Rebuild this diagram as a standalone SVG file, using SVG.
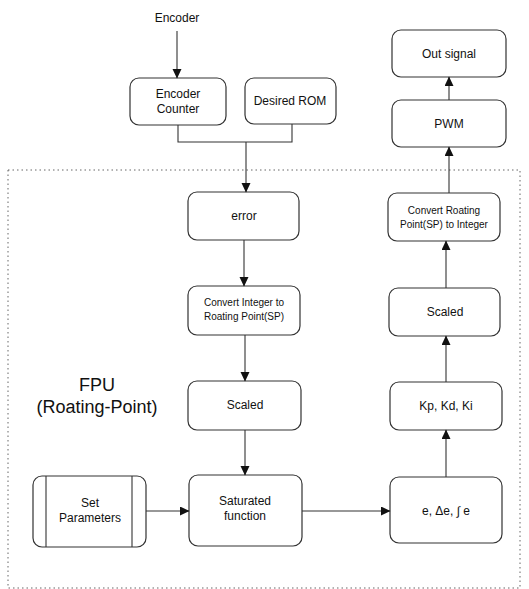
<svg xmlns="http://www.w3.org/2000/svg" width="529" height="589" viewBox="0 0 529 589">
<style>
.box{fill:#fff;stroke:#333;stroke-width:1.2}
.t{font-family:"Liberation Sans",Arial,sans-serif;font-size:12px;fill:#111;text-anchor:middle}
.s{font-size:10px}
.c{fill:none;stroke:#333;stroke-width:1.1}
.fpu{font-family:"Liberation Sans",Arial,sans-serif;font-size:18px;fill:#111;text-anchor:middle}
</style>
<defs>
<marker id="ah" markerWidth="10" markerHeight="10" refX="9" refY="4.5" orient="auto" markerUnits="userSpaceOnUse">
<path d="M0,0 L9.5,4.5 L0,9 Z" fill="#111"/>
</marker>
</defs>
<rect x="0" y="0" width="529" height="589" fill="#fff"/>
<rect x="8" y="170" width="512" height="418" fill="none" stroke="#666" stroke-width="1" stroke-dasharray="1.5,3"/>
<text class="fpu" x="97" y="391">FPU</text>
<text class="fpu" x="97" y="413">(Roating-Point)</text>
<text class="t" x="177" y="22">Encoder</text>
<g id="encoder-counter"><rect class="box" x="130" y="78" width="96" height="47" rx="9"/><text class="t" x="178" y="98">Encoder</text><text class="t" x="178" y="113">Counter</text></g>
<g id="desired-rom"><rect class="box" x="245" y="78" width="91" height="46" rx="9"/><text class="t" x="290" y="105">Desired ROM</text></g>
<g id="out-signal"><rect class="box" x="392" y="30" width="114" height="47" rx="9"/><text class="t" x="449" y="58">Out signal</text></g>
<g id="pwm"><rect class="box" x="392" y="100" width="114" height="47" rx="9"/><text class="t" x="449" y="128">PWM</text></g>
<g id="error"><rect class="box" x="188" y="192" width="111" height="48" rx="9"/><text class="t" x="244" y="220">error</text></g>
<g id="convert-int"><rect class="box" x="188" y="286" width="112" height="49" rx="9"/><text class="t s" x="244" y="306">Convert Integer to</text><text class="t s" x="244" y="320">Roating Point(SP)</text></g>
<g id="convert-fp"><rect class="box" x="388" y="193" width="112" height="48" rx="9"/><text class="t s" x="444" y="214">Convert Roating</text><text class="t s" x="444" y="228">Point(SP) to Integer</text></g>
<g id="scaled-right"><rect class="box" x="389" y="288" width="111" height="48" rx="9"/><text class="t" x="445" y="316">Scaled</text></g>
<g id="scaled-left"><rect class="box" x="188" y="381" width="113" height="49" rx="9"/><text class="t" x="245" y="409">Scaled</text></g>
<g id="gains"><rect class="box" x="390" y="382" width="112" height="48" rx="9"/><text class="t" x="446" y="410">Kp, Kd, Ki</text></g>
<g id="set-params"><rect class="box" x="33" y="476" width="113" height="71" rx="9"/><line class="c" x1="46" y1="476" x2="46" y2="547"/><line class="c" x1="132" y1="476" x2="132" y2="547"/><text class="t" x="90" y="507">Set</text><text class="t" x="90" y="522">Parameters</text></g>
<g id="saturated"><rect class="box" x="189" y="475" width="113" height="71" rx="9"/><text class="t" x="245" y="505">Saturated</text><text class="t" x="245" y="520">function</text></g>
<g id="errors"><rect class="box" x="390" y="477" width="112" height="66" rx="9"/><text class="t" x="446" y="515">e, Δe, ∫ e</text></g>
<g id="connectors">
<line class="c" x1="177" y1="31" x2="177" y2="78" marker-end="url(#ah)"/>
<polyline class="c" points="178,125 178,142 292,142 292,124"/>
<line class="c" x1="246" y1="142" x2="246" y2="192" marker-end="url(#ah)"/>
<line class="c" x1="244" y1="240" x2="244" y2="286" marker-end="url(#ah)"/>
<line class="c" x1="245" y1="335" x2="245" y2="381" marker-end="url(#ah)"/>
<line class="c" x1="245" y1="430" x2="245" y2="475" marker-end="url(#ah)"/>
<line class="c" x1="146" y1="511" x2="189" y2="511" marker-end="url(#ah)"/>
<line class="c" x1="302" y1="511" x2="390" y2="511" marker-end="url(#ah)"/>
<line class="c" x1="446" y1="477" x2="446" y2="430" marker-end="url(#ah)"/>
<line class="c" x1="446" y1="382" x2="446" y2="336" marker-end="url(#ah)"/>
<line class="c" x1="446" y1="288" x2="446" y2="241" marker-end="url(#ah)"/>
<line class="c" x1="449" y1="193" x2="449" y2="147" marker-end="url(#ah)"/>
<line class="c" x1="449" y1="100" x2="449" y2="77" marker-end="url(#ah)"/>
</g>
</svg>
